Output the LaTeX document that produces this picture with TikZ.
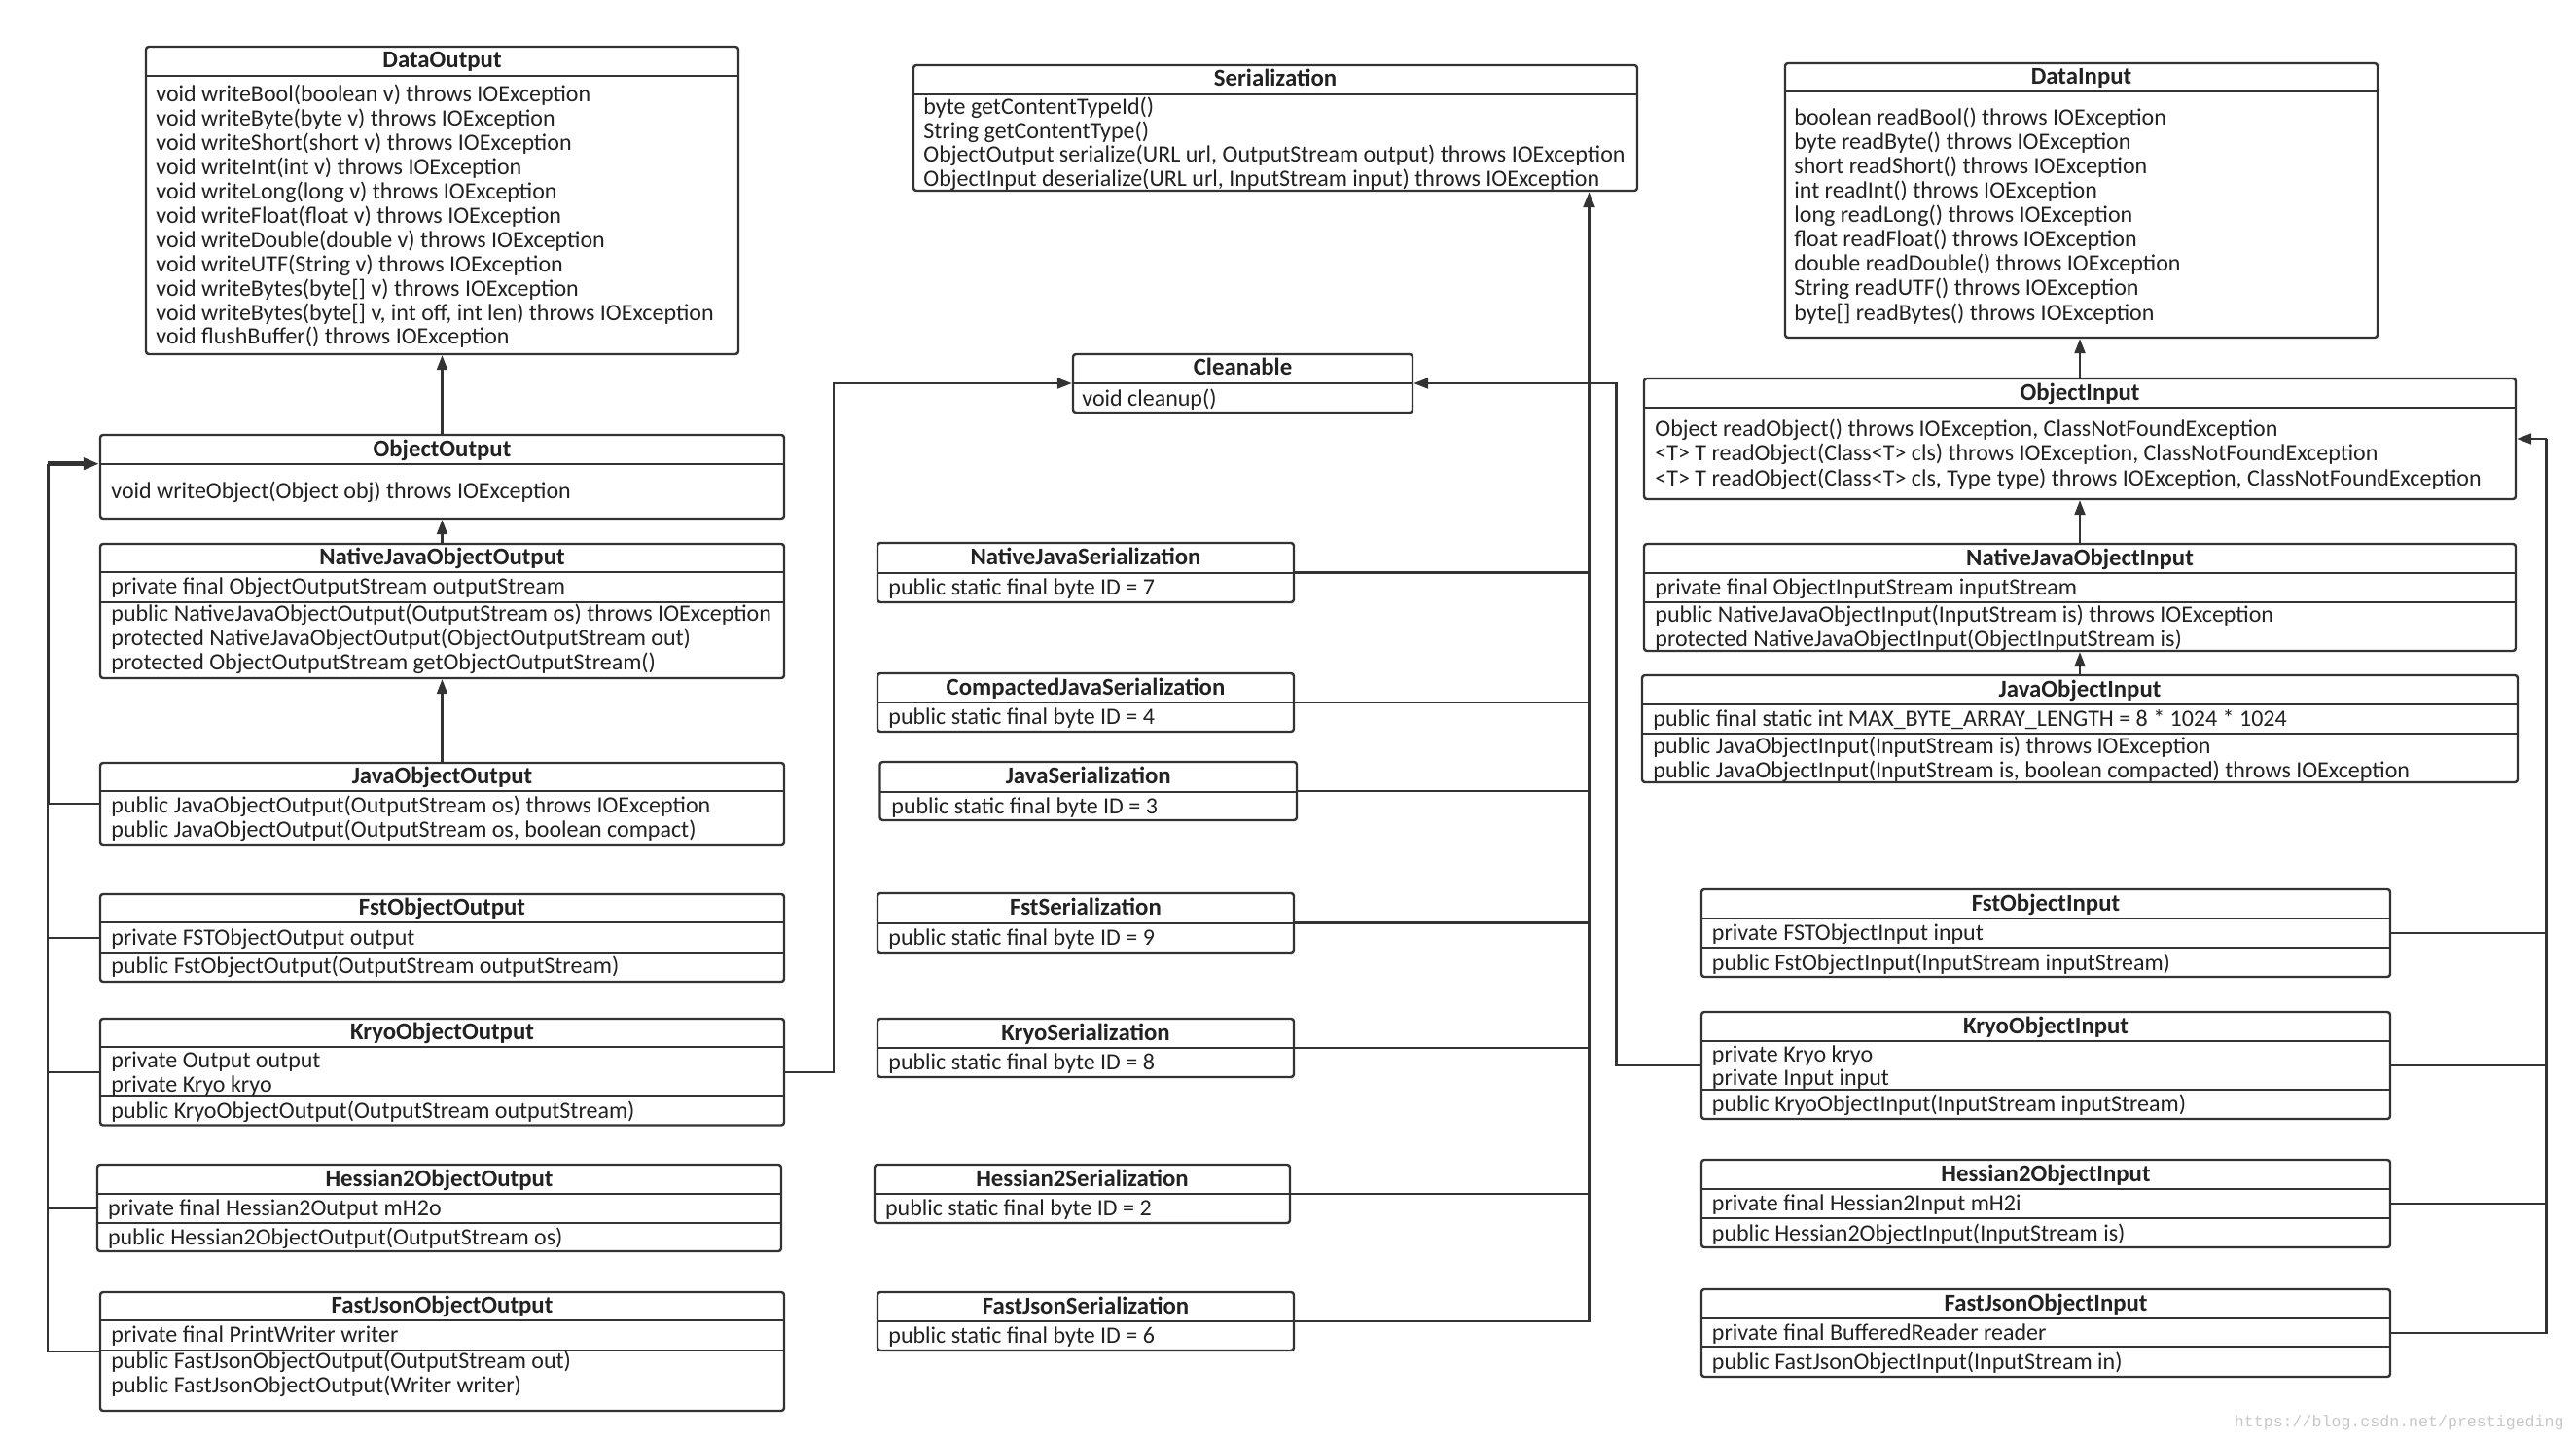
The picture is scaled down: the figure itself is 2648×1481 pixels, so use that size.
\documentclass[tikz,border=0pt]{standalone}
\usepackage{fontspec}
\setmainfont{Carlito}
\newfontfamily\wmfont{Liberation Mono}
\usetikzlibrary{arrows.meta,calc,fit}
\definecolor{ink}{HTML}{333333}
\definecolor{txtc}{HTML}{222222}
\definecolor{wmc}{HTML}{C8C8C8}
\newcommand\clsbox[7]{%
  \node[cbox, fit={(#2,#3)(#4,#5)}] (#1) {};
  \draw[sepl] (#2,#6) -- (#4,#6);
  \node[ttl] (#1t) at ($(#2,#3)!0.5!(#4,#6)$) {#7};}
\newcommand\sepat[2]{\draw[sepl] (#1.west |- 0,#2) -- (#1.east |- 0,#2);}
\newcommand\mline[4]{\node[lntxt] (#1) at (#2,#3) {#4};}
\begin{document}
\begin{tikzpicture}[x=0.5pt,y=-0.5pt,
  cbox/.style={draw=ink, line width=1.2pt, rounded corners=1.5pt, inner sep=0pt, fill=white},
  sepl/.style={draw=ink, line width=1.1pt},
  ttl/.style={font=\fontsize{12.4}{14}\selectfont\bfseries, text=txtc, inner sep=0pt, text height=9pt, text depth=2pt},
  lntxt/.style={font=\fontsize{12}{14}\selectfont, text=txtc, anchor=west, inner sep=0pt, text height=9.3pt, text depth=2pt},
  conn/.style={draw=ink, line width=1.05pt},
  trunk/.style={draw=ink, line width=1.7pt},
  arr/.style={conn, -{Triangle[length=7.5pt,width=5.5pt]}}]
\useasboundingbox[fill=white] (0,0) rectangle (2648,1481);

% ---------------- left column ----------------
\clsbox{DO}{150}{48}{759}{364}{78}{DataOutput}
\foreach \t [count=\i from 0] in {
  {void writeBool(boolean v) throws IOException},
  {void writeByte(byte v) throws IOException},
  {void writeShort(short v) throws IOException},
  {void writeInt(int v) throws IOException},
  {void writeLong(long v) throws IOException},
  {void writeFloat(float v) throws IOException},
  {void writeDouble(double v) throws IOException},
  {void writeUTF(String v) throws IOException},
  {void writeBytes(byte[] v) throws IOException},
  {void writeBytes(byte[] v, int off, int len) throws IOException},
  {void flushBuffer() throws IOException}}
  \node[lntxt] (DO\i) at (160,97.3+24.94*\i) {\t};

\clsbox{OO}{103}{447}{806}{533}{477}{ObjectOutput}
\mline{OO1}{114}{505}{void writeObject(Object obj) throws IOException}

\clsbox{NJOO}{103}{559}{806}{697}{588}{NativeJavaObjectOutput}
\sepat{NJOO}{619}
\mline{NJOO1}{114}{603.5}{private final ObjectOutputStream outputStream}
\mline{NJOO2}{114}{631}{public NativeJavaObjectOutput(OutputStream os) throws IOException}
\mline{NJOO3}{114}{656}{protected NativeJavaObjectOutput(ObjectOutputStream out)}
\mline{NJOO4}{114}{681.5}{protected ObjectOutputStream getObjectOutputStream()}

\clsbox{JOO}{103}{784}{806}{868}{813}{JavaObjectOutput}
\mline{JOO1}{114}{828}{public JavaObjectOutput(OutputStream os) throws IOException}
\mline{JOO2}{114}{853}{public JavaObjectOutput(OutputStream os, boolean compact)}

\clsbox{FOO}{103}{919}{806}{1009}{948}{FstObjectOutput}
\sepat{FOO}{979}
\mline{FOO1}{114}{964}{private FSTObjectOutput output}
\mline{FOO2}{114}{993.5}{public FstObjectOutput(OutputStream outputStream)}

\clsbox{KOO}{103}{1047}{806}{1156.5}{1076}{KryoObjectOutput}
\sepat{KOO}{1126}
\mline{KOO1}{114}{1090}{private Output output}
\mline{KOO2}{114}{1115}{private Kryo kryo}
\mline{KOO3}{114}{1142}{public KryoObjectOutput(OutputStream outputStream)}

\clsbox{HOO}{100}{1197}{803}{1286}{1227}{Hessian2ObjectOutput}
\sepat{HOO}{1257}
\mline{HOO1}{110.6}{1242}{private final Hessian2Output mH2o}
\mline{HOO2}{110.6}{1272}{public Hessian2ObjectOutput(OutputStream os)}

\clsbox{FJOO}{103}{1328}{806}{1450}{1357}{FastJsonObjectOutput}
\sepat{FJOO}{1388}
\mline{FJOO1}{114}{1372}{private final PrintWriter writer}
\mline{FJOO2}{114}{1399}{public FastJsonObjectOutput(OutputStream out)}
\mline{FJOO3}{114}{1424.5}{public FastJsonObjectOutput(Writer writer)}

% ---------------- middle column ----------------
\clsbox{SER}{939}{67}{1683}{196}{97}{Serialization}
\mline{SER1}{949}{110}{byte getContentTypeId()}
\mline{SER2}{949}{135}{String getContentType()}
\mline{SER3}{949}{159}{ObjectOutput serialize(URL url, OutputStream output) throws IOException}
\mline{SER4}{949}{184}{ObjectInput deserialize(URL url, InputStream input) throws IOException}

\clsbox{CL}{1103}{364}{1452}{424}{394}{Cleanable}
\mline{CL1}{1112}{410}{void cleanup()}

\clsbox{NJS}{902}{558}{1330}{619}{589}{NativeJavaSerialization}
\mline{NJS1}{913}{604}{public static final byte ID = 7}
\clsbox{CJS}{902}{692}{1330}{752}{722}{CompactedJavaSerialization}
\mline{CJS1}{913}{737}{public static final byte ID = 4}
\clsbox{JS}{904.5}{783}{1333}{843}{814}{JavaSerialization}
\mline{JS1}{916}{829}{public static final byte ID = 3}
\clsbox{FS}{902}{918}{1330}{979}{949}{FstSerialization}
\mline{FS1}{913}{964}{public static final byte ID = 9}
\clsbox{KS}{902}{1047}{1330}{1107}{1077}{KryoSerialization}
\mline{KS1}{913}{1092}{public static final byte ID = 8}
\clsbox{HS}{899}{1197}{1326}{1257}{1227}{Hessian2Serialization}
\mline{HS1}{909.7}{1242}{public static final byte ID = 2}
\clsbox{FJS}{902}{1328}{1330}{1388}{1358}{FastJsonSerialization}
\mline{FJS1}{913}{1373}{public static final byte ID = 6}

% ---------------- right column ----------------
\clsbox{DI}{1835}{65}{2444}{347}{94}{DataInput}
\foreach \t [count=\i from 0] in {
  {boolean readBool() throws IOException},
  {byte readByte() throws IOException},
  {short readShort() throws IOException},
  {int readInt() throws IOException},
  {long readLong() throws IOException},
  {float readFloat() throws IOException},
  {double readDouble() throws IOException},
  {String readUTF() throws IOException},
  {byte[] readBytes() throws IOException}}
  \node[lntxt] (DI\i) at (1844,121.7+25*\i) {\t};

\clsbox{OI}{1690}{389}{2586}{513}{419}{ObjectInput}
\mline{OI1}{1701}{441}{Object readObject() throws IOException, ClassNotFoundException}
\mline{OI2}{1701}{466}{<T> T readObject(Class<T> cls) throws IOException, ClassNotFoundException}
\mline{OI3}{1701}{492}{<T> T readObject(Class<T> cls, Type type) throws IOException, ClassNotFoundException}

\clsbox{NJOI}{1690}{559}{2586}{669}{589}{NativeJavaObjectInput}
\sepat{NJOI}{619}
\mline{NJOI1}{1701}{604}{private final ObjectInputStream inputStream}
\mline{NJOI2}{1701}{632}{public NativeJavaObjectInput(InputStream is) throws IOException}
\mline{NJOI3}{1701}{657}{protected NativeJavaObjectInput(ObjectInputStream is)}

\clsbox{JOI}{1688}{694}{2588}{804}{724}{JavaObjectInput}
\sepat{JOI}{754}
\mline{JOI1}{1699}{739}{public final static int MAX\_BYTE\_ARRAY\_LENGTH = 8 * 1024 * 1024}
\mline{JOI2}{1699}{767}{public JavaObjectInput(InputStream is) throws IOException}
\mline{JOI3}{1699}{792}{public JavaObjectInput(InputStream is, boolean compacted) throws IOException}

\clsbox{FOI}{1749}{914}{2457}{1004}{944}{FstObjectInput}
\sepat{FOI}{974}
\mline{FOI1}{1759.5}{959}{private FSTObjectInput input}
\mline{FOI2}{1759.5}{990}{public FstObjectInput(InputStream inputStream)}

\clsbox{KOI}{1749}{1040}{2457}{1150}{1070}{KryoObjectInput}
\sepat{KOI}{1120}
\mline{KOI1}{1759.5}{1084}{private Kryo kryo}
\mline{KOI2}{1759.5}{1108.5}{private Input input}
\mline{KOI3}{1759.5}{1135}{public KryoObjectInput(InputStream inputStream)}

\clsbox{HOI}{1749}{1192}{2457}{1282}{1222}{Hessian2ObjectInput}
\sepat{HOI}{1252}
\mline{HOI1}{1759.5}{1237}{private final Hessian2Input mH2i}
\mline{HOI2}{1759.5}{1268}{public Hessian2ObjectInput(InputStream is)}

\clsbox{FJOI}{1749}{1325}{2457}{1415}{1355}{FastJsonObjectInput}
\sepat{FJOI}{1384}
\mline{FJOI1}{1759.5}{1370}{private final BufferedReader reader}
\mline{FJOI2}{1759.5}{1400}{public FastJsonObjectInput(InputStream in)}

% ---------------- connectors ----------------
\draw[arr] (OO.north) -- (DO.south);
\draw[arr] (NJOO.north) -- (OO.south);
\draw[arr] (JOO.north) -- (NJOO.south);
\draw[arr] (OI.north) -- (OI.north |- DI.south);
\draw[arr] (NJOI.north) -- (OI.south);
\draw[arr] (JOI.north) -- (JOI.north |- NJOI.south);

% left trunk to ObjectOutput
\coordinate (Lj) at (49.4,476.7);
\draw[conn] (JOO.west) -| (Lj);
\draw[conn] (FOO.west) -| (Lj);
\draw[conn] (KOO.west) -| (Lj);
\draw[conn] (HOO.west) -| (Lj);
\draw[conn] (FJOO.west) -| (Lj);
\draw[trunk] (Lj) -- (Lj |- JOO.west);
\draw[draw=ink, line width=2.4pt, -{Triangle[length=8pt,width=6pt]}] (Lj) -- (OO.west |- Lj);

% Cleanable
\coordinate (CLl) at (857,394);
\coordinate (CLr) at (1661.5,394);
\draw[arr] (KOO.east) -| (CLl) -- (CL.west);
\draw[arr] (KOI.west) -| (CLr) -- (CL.east);

% Serialization trunk
\coordinate (Sj) at (1633.5,588.5);
\draw[conn] (NJS.east) -- (Sj);
\draw[conn] (CJS.east) -| (Sj);
\draw[conn] (JS.east) -| (Sj);
\draw[conn] (FS.east) -| (Sj);
\draw[conn] (KS.east) -| (Sj);
\draw[conn] (HS.east) -| (Sj);
\draw[conn] (FJS.east) -| (Sj);
\draw[trunk] (Sj |- HS.east) -- (Sj);
\draw[trunk, -{Triangle[length=8pt,width=5.8pt]}] (Sj) -- (Sj |- SER.south);

% right trunk to ObjectInput
\coordinate (Rj) at (2617.5,451);
\draw[conn] (FOI.east) -| (Rj);
\draw[conn] (KOI.east) -| (Rj);
\draw[conn] (HOI.east) -| (Rj);
\draw[conn] (FJOI.east) -| (Rj);
\draw[arr] (Rj) -- (OI.east);

% watermark
\node[font=\wmfont\fontsize{8.3}{10}\selectfont, text=wmc, anchor=east, inner sep=0pt] (wmk) at (2636,1462) {https://blog.csdn.net/prestigeding};
\end{tikzpicture}
\end{document}
